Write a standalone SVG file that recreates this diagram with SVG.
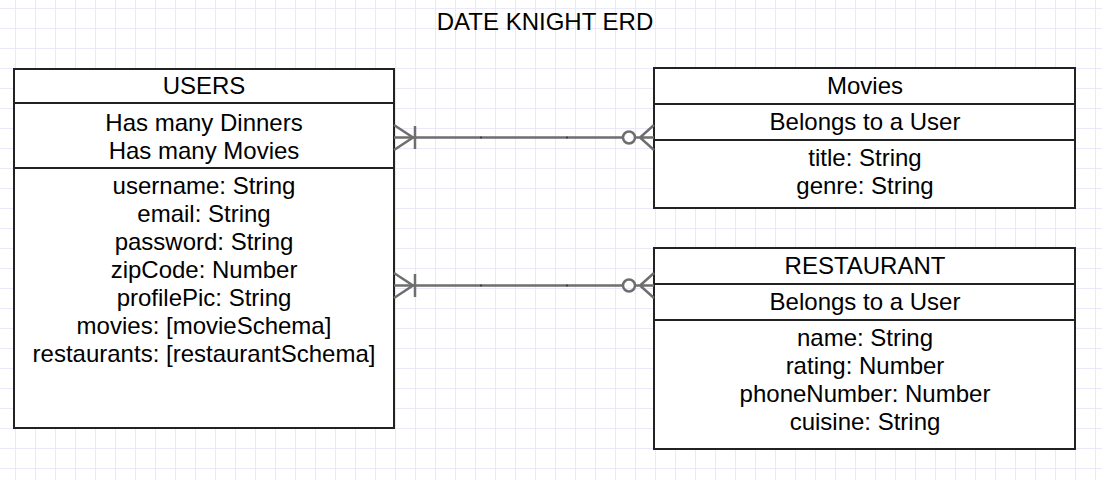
<svg xmlns="http://www.w3.org/2000/svg" width="1102" height="480" viewBox="0 0 1102 480">
<defs>
<pattern id="grid" x="15" y="8" width="20" height="20" patternUnits="userSpaceOnUse">
<path d="M0 0H20M0 0V20" fill="none" stroke="#e2e2fa" stroke-width="1.5"/>
</pattern>
</defs>
<style>
.box{fill:#fff;stroke:#222;stroke-width:2}
.div{stroke:#222;stroke-width:2}
text{font-family:"Liberation Sans",Arial,sans-serif;font-size:24px;fill:#000;text-anchor:middle}
.conn{fill:none;stroke:#6e6e6e;stroke-width:2.5}
.dot{fill:#333}
</style>
<rect width="1102" height="480" fill="#fff"/>
<rect width="1102" height="480" fill="url(#grid)"/>
<text x="545" y="30">DATE KNIGHT ERD</text>
<g id="users">
<rect class="box" x="14" y="69" width="380" height="359"/>
<line class="div" x1="14" y1="103" x2="394" y2="103"/>
<line class="div" x1="14" y1="168" x2="394" y2="168"/>
<text x="204" y="94">USERS</text>
<text x="204" y="131">Has many Dinners</text>
<text x="204" y="159">Has many Movies</text>
<text x="204" y="194">username: String</text>
<text x="204" y="222">email: String</text>
<text x="204" y="250">password: String</text>
<text x="204" y="278">zipCode: Number</text>
<text x="204" y="306">profilePic: String</text>
<text x="204" y="334">movies: [movieSchema]</text>
<text x="204" y="362">restaurants: [restaurantSchema]</text>
</g>
<g id="movies">
<rect class="box" x="654" y="68" width="421" height="140"/>
<line class="div" x1="654" y1="104" x2="1075" y2="104"/>
<line class="div" x1="654" y1="140" x2="1075" y2="140"/>
<text x="865" y="94">Movies</text>
<text x="865" y="130">Belongs to a User</text>
<text x="865" y="166">title: String</text>
<text x="865" y="194">genre: String</text>
</g>
<g id="restaurant">
<rect class="box" x="654" y="248" width="421" height="201"/>
<line class="div" x1="654" y1="284" x2="1075" y2="284"/>
<line class="div" x1="654" y1="320" x2="1075" y2="320"/>
<text x="865" y="274">RESTAURANT</text>
<text x="865" y="310">Belongs to a User</text>
<text x="865" y="346">name: String</text>
<text x="865" y="374">rating: Number</text>
<text x="865" y="402">phoneNumber: Number</text>
<text x="865" y="430">cuisine: String</text>
</g>
<g id="connectors">
<path class="conn" d="M394 137.5H623"/>
<path class="conn" d="M394 125L413 137.5L394 150M415 126V149"/>
<circle class="conn" cx="629" cy="137.5" r="6"/>
<path class="conn" d="M635 137.5H654M654 125L640 137.5L654 150"/>
<circle class="dot" cx="481" cy="137.5" r="1"/>
<circle class="dot" cx="567" cy="137.5" r="1"/>
<path class="conn" d="M394 285.5H623"/>
<path class="conn" d="M394 273L413 285.5L394 298M415 274V297"/>
<circle class="conn" cx="629" cy="285.5" r="6"/>
<path class="conn" d="M635 285.5H654M654 273L640 285.5L654 298"/>
<circle class="dot" cx="481" cy="285.5" r="1"/>
<circle class="dot" cx="567" cy="285.5" r="1"/>
</g>
</svg>
